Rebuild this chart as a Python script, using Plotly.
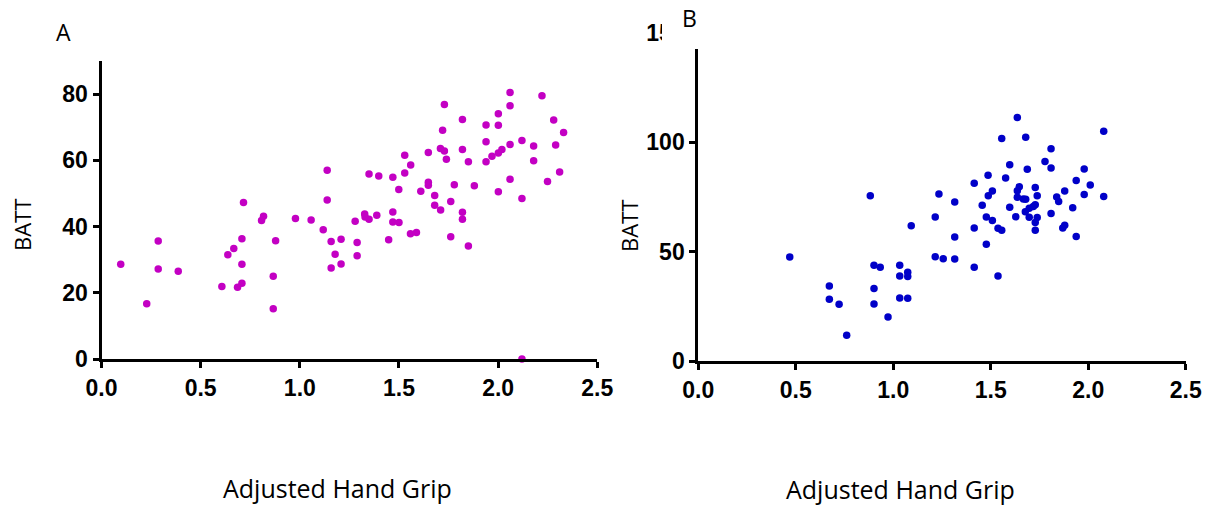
import plotly.graph_objects as go

# ---- Data ----
a_grip = [0.097, 0.228, 0.286, 0.286, 0.387, 0.607, 0.637, 0.667, 0.708, 0.708, 0.708, 0.686, 0.716,
          0.807, 0.817, 0.878, 0.866, 0.866, 0.978, 1.057, 1.138, 1.138, 1.118, 1.158, 1.178, 1.208,
          1.158, 1.208, 1.279, 1.289, 1.289, 1.327, 1.329, 1.349, 1.349, 1.388, 1.398, 1.448, 1.469,
          1.469, 1.469, 1.500, 1.499, 1.529, 1.529, 1.559, 1.558, 1.588, 1.610, 1.648, 1.648, 1.648,
          1.680, 1.680, 1.710, 1.709, 1.729, 1.729, 1.720, 1.739, 1.761, 1.779, 1.761, 1.820, 1.820,
          1.820, 1.820, 1.850, 1.850, 1.880, 1.939, 1.939, 1.939, 1.969, 2.001, 2.001, 2.001, 2.019,
          2.001, 2.060, 2.060, 2.060, 2.060, 2.120, 2.120, 2.120, 2.179, 2.179, 2.221, 2.249, 2.280,
          2.290, 2.310, 2.330]
a_batt = [28.6, 16.7, 35.6, 27.2, 26.5, 21.9, 31.5, 33.4, 36.3, 28.6, 22.9, 21.7, 47.3,
          41.8, 43.1, 35.7, 25.0, 15.2, 42.4, 42.0, 57.0, 48.0, 39.0, 35.5, 31.6, 36.2,
          27.5, 28.7, 41.6, 35.2, 31.2, 43.8, 42.9, 42.2, 55.9, 43.4, 55.3, 36.0, 54.9,
          44.4, 41.4, 41.2, 51.2, 61.5, 56.2, 58.6, 37.8, 38.2, 50.7, 62.4, 53.4, 52.5,
          49.4, 46.4, 45.0, 63.6, 62.8, 76.9, 69.1, 60.3, 47.6, 52.6, 36.9, 72.3, 63.3,
          44.3, 42.2, 59.6, 34.1, 52.3, 70.7, 65.6, 59.6, 61.2, 74.1, 70.6, 62.2, 63.3,
          50.5, 80.5, 76.5, 64.8, 54.3, 66.0, 48.5, 0.0, 64.3, 59.9, 79.5, 53.6, 72.2,
          64.6, 56.5, 68.4]

b_grip = [0.469, 0.672, 0.672, 0.722, 0.761, 0.882, 0.901, 0.933, 0.901, 0.901, 0.973, 1.033, 1.033,
          1.074, 1.074, 1.033, 1.074, 1.092, 1.215, 1.234, 1.215, 1.256, 1.315, 1.315, 1.315, 1.415,
          1.415, 1.415, 1.456, 1.477, 1.477, 1.486, 1.487, 1.508, 1.508, 1.537, 1.556, 1.537, 1.556,
          1.576, 1.597, 1.597, 1.628, 1.636, 1.636, 1.646, 1.636, 1.667, 1.679, 1.679, 1.687, 1.677,
          1.697, 1.697, 1.718, 1.728, 1.728, 1.738, 1.738, 1.728, 1.728, 1.778, 1.809, 1.809, 1.809,
          1.838, 1.848, 1.869, 1.879, 1.879, 1.920, 1.938, 1.938, 1.979, 1.979, 2.010, 2.079, 2.079]
b_batt = [47.6, 34.3, 28.2, 25.9, 11.8, 75.6, 43.8, 42.9, 33.1, 26.1, 20.1, 43.8, 38.9,
          40.6, 38.7, 28.8, 28.7, 61.8, 65.9, 76.4, 47.7, 46.8, 72.7, 56.7, 46.7, 81.3,
          60.8, 42.9, 71.2, 65.9, 53.4, 84.9, 75.6, 77.8, 64.2, 60.7, 59.8, 38.9, 101.7,
          83.7, 89.7, 70.3, 66.0, 111.3, 77.9, 79.7, 74.9, 74.1, 74.0, 102.3, 87.7, 68.3,
          69.9, 65.7, 70.6, 71.5, 79.3, 75.6, 65.6, 63.3, 59.8, 91.2, 97.1, 88.3, 67.4,
          75.0, 72.9, 60.8, 62.1, 77.8, 70.1, 82.5, 56.9, 87.8, 76.1, 80.5, 105.1, 75.2]

x_ticks = [0.0, 0.5, 1.0, 1.5, 2.0, 2.5]
x_tick_labels = ["0.0", "0.5", "1.0", "1.5", "2.0", "2.5"]
a_y_ticks = [0, 20, 40, 60, 80]
b_y_ticks = [0, 50, 100, 150]

# ---- Layout helpers (pixel -> paper) ----
W, H = 1216, 507
def fx(px):
    return px / W
def fy(py):
    return (H - py) / H

def bold(labels):
    return ["<b>%s</b>" % s for s in labels]

fig = go.Figure()
fig.add_trace(go.Scatter(x=a_grip, y=a_batt, mode="markers", xaxis="x", yaxis="y",
                         marker=dict(color="#C300C3", size=7.5, line=dict(width=0)),
                         cliponaxis=False, showlegend=False))
fig.add_trace(go.Scatter(x=b_grip, y=b_batt, mode="markers", xaxis="x2", yaxis="y2",
                         marker=dict(color="#0000C8", size=7.5, line=dict(width=0)),
                         cliponaxis=False, showlegend=False))

tickfont = dict(family="Liberation Sans", size=23, color="black")
axis_common = dict(showgrid=False, zeroline=False, showline=True, linecolor="black", linewidth=3,
                   ticks="outside", ticklen=6, tickwidth=3, tickcolor="black", tickfont=tickfont,
                   automargin=False, fixedrange=True)

fig.update_layout(
    template="none",
    width=W, height=H,
    margin=dict(l=0, r=0, t=0, b=0, pad=0),
    paper_bgcolor="white", plot_bgcolor="white",
    xaxis=dict(domain=[fx(101.5), fx(597.3)], range=[0, 2.5], anchor="y",
               tickvals=x_ticks, ticktext=bold(x_tick_labels), **axis_common),
    yaxis=dict(domain=[fy(359), fy(61)], range=[0, 90], anchor="x",
               tickvals=a_y_ticks, ticktext=bold([str(v) for v in a_y_ticks]), **axis_common),
    xaxis2=dict(domain=[fx(698.3), fx(1185.8)], range=[0, 2.5], anchor="y2",
                tickvals=x_ticks, ticktext=bold(x_tick_labels), **axis_common),
    yaxis2=dict(domain=[fy(361), fy(33)], range=[0, 150], anchor="x2",
                tickvals=b_y_ticks, ticktext=bold([str(v) for v in b_y_ticks]), **axis_common),
    shapes=[dict(type="rect", xref="paper", yref="paper", x0=fx(662), x1=1, y0=fy(49), y1=1,
                 fillcolor="white", line=dict(width=0), layer="above")],
)

title_font = dict(family="Open Sans", size=25, color="black")
batt_font = dict(family="Open Sans", size=22, color="black")
panel_font = dict(family="Open Sans", size=23, color="black")
annos = [
    dict(text="A", x=fx(63), y=fy(32), font=panel_font),
    dict(text="B", x=fx(689), y=fy(18), font=panel_font),
    dict(text="Adjusted Hand Grip", x=fx(337), y=fy(488), font=title_font),
    dict(text="Adjusted Hand Grip", x=fx(900), y=fy(489), font=title_font),
    dict(text="BATT", x=fx(22), y=fy(225), textangle=-90, font=batt_font),
    dict(text="BATT", x=fx(629), y=fy(226), textangle=-90, font=batt_font),
]
for a in annos:
    fig.add_annotation(xref="paper", yref="paper", showarrow=False, xanchor="center", yanchor="middle", **a)

fig.write_html("out.html")
